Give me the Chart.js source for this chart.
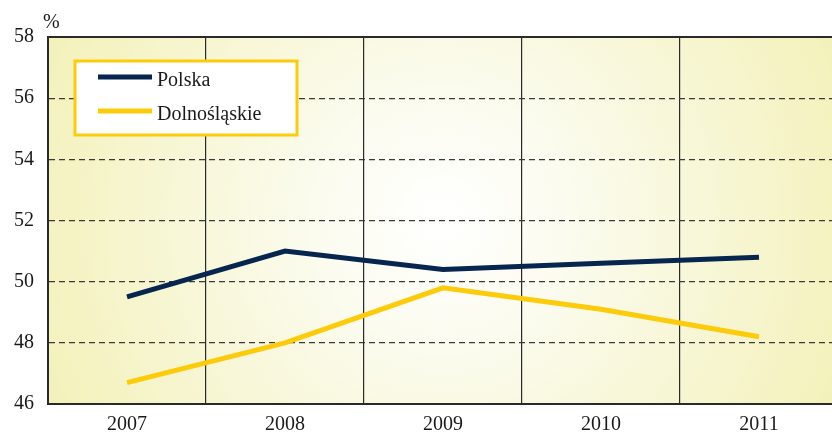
<!DOCTYPE html>
<html>
<head>
<meta charset="utf-8">
<script src="https://cdn.jsdelivr.net/npm/chart.js@4/dist/chart.umd.min.js"></script>
<style>
  html, body { margin: 0; padding: 0; background: #fff; overflow: hidden; }
  #wrap { width: 838px; height: 434px; }
</style>
</head>
<body>
<div id="wrap"><canvas id="chart" width="838" height="434"></canvas></div>
<script>
const years = ['2007', '2008', '2009', '2010', '2011'];
const polska = [49.5, 51.0, 50.4, 50.6, 50.8];
const dolnoslaskie = [46.7, 48.0, 49.8, 49.1, 48.2];
const yTicks = [46, 48, 50, 52, 54, 56, 58];

const navy = '#06264f';
const yellow = '#fccb0a';
const serif = '"Liberation Serif", "DejaVu Serif", serif';

// background gradient inside plot
const bgPlugin = {
  id: 'bg',
  beforeDraw(chart) {
    const { ctx, chartArea: a } = chart;
    const cx = 443, cy = 220;
    const g = ctx.createRadialGradient(cx, cy, 0, cx, cy, 440);
    g.addColorStop(0, '#ffffff');
    g.addColorStop(0.3, '#fbfbee');
    g.addColorStop(1, '#f3f1b8');
    ctx.save();
    ctx.fillStyle = g;
    ctx.fillRect(a.left, a.top, a.right - a.left, a.bottom - a.top);
    ctx.restore();
  }
};

// top frame line, % label and legend box
const extrasPlugin = {
  id: 'extras',
  afterDatasetsDraw(chart) {
    const { ctx, chartArea: a } = chart;
    ctx.save();
    ctx.strokeStyle = '#2a2a2a';
    ctx.lineWidth = 2;
    ctx.beginPath();
    ctx.moveTo(a.left, a.top);
    ctx.lineTo(a.right, a.top);
    ctx.stroke();

    ctx.fillStyle = '#1a1a1a';
    ctx.font = '20px ' + serif;
    ctx.textBaseline = 'alphabetic';
    ctx.textAlign = 'left';
    ctx.fillText('%', 43, 28);

    // legend
    ctx.fillStyle = '#ffffff';
    ctx.fillRect(75, 61, 222, 74);
    ctx.strokeStyle = yellow;
    ctx.lineWidth = 3;
    ctx.strokeRect(75, 61, 222, 74);
    const items = chart.data.datasets;
    const ys = [77, 111];
    items.forEach((ds, i) => {
      ctx.strokeStyle = ds.borderColor;
      ctx.lineWidth = 5;
      ctx.beginPath();
      ctx.moveTo(98, ys[i]);
      ctx.lineTo(152, ys[i]);
      ctx.stroke();
      ctx.fillStyle = '#1a1a1a';
      ctx.font = '20px ' + serif;
      ctx.fillText(ds.label, 157, ys[i] + 9);
    });
    ctx.restore();
  }
};

new Chart(document.getElementById('chart'), {
  type: 'line',
  data: {
    labels: years,
    datasets: [
      { label: 'Polska', data: polska, borderColor: navy, borderWidth: 5, pointRadius: 0, tension: 0 },
      { label: 'Dolnośląskie', data: dolnoslaskie, borderColor: yellow, borderWidth: 5, pointRadius: 0, tension: 0 }
    ]
  },
  options: {
    responsive: false,
    animation: false,
    layout: { padding: { top: 37, left: 0, right: 0, bottom: 0 } },
    plugins: { legend: { display: false }, tooltip: { enabled: false } },
    scales: {
      x: {
        offset: true,
        grid: { offset: true, color: '#2a2a2a', lineWidth: 1.2, drawTicks: false },
        border: { display: true, color: '#2a2a2a', width: 2 },
        ticks: { color: '#1a1a1a', font: { family: serif, size: 20 }, padding: 9 },
        afterFit(s) { s.height = 30; }
      },
      y: {
        min: 46,
        max: 58,
        afterBuildTicks(s) { s.ticks = yTicks.map(v => ({ value: v })); },
        grid: {
          drawTicks: false,
          lineWidth: 1.2,
          color: c => (c.tick && (c.tick.value === 46 || c.tick.value === 58)) ? 'rgba(0,0,0,0)' : '#3a3a3a'
        },
        border: { display: true, color: '#2a2a2a', width: 2, dash: [6, 4] },
        ticks: { color: '#1a1a1a', font: { family: serif, size: 20 }, padding: 14 },
        afterFit(s) { s.width = 48; }
      }
    }
  },
  plugins: [bgPlugin, extrasPlugin]
});
</script>
</body>
</html>
